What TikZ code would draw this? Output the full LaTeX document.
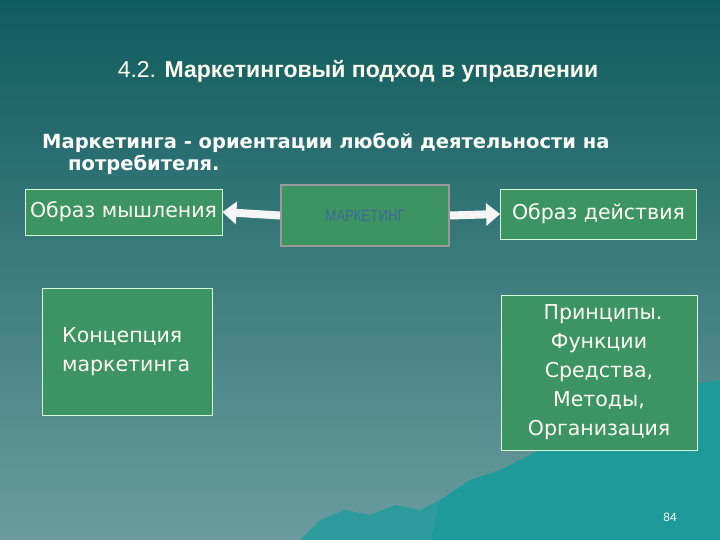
\documentclass[tikz,border=0pt]{standalone}
\usepackage{fontspec}
\setmainfont{DejaVu Sans}
\newfontfamily\arialf{Liberation Sans}
\usetikzlibrary{arrows.meta}
\definecolor{bgtop}{HTML}{0F5C5E}
\definecolor{bgbot}{HTML}{6A9C9E}
\definecolor{boxg}{HTML}{3D9463}
\definecolor{mount}{HTML}{1E9A9A}
\definecolor{titlec}{HTML}{FFFFF0}
\tikzset{
  gbox/.style={draw=white!85!green, line width=0.8pt, fill=boxg, text=titlec, inner sep=0pt},
  warrow/.style={-{Triangle[length=14pt,width=22pt]}, line width=8pt, draw=white!92!gray},
}
\begin{document}
\begin{tikzpicture}[x=1pt,y=-1pt]
\useasboundingbox (0,0) rectangle (720,540);
\shade[top color=bgtop, bottom color=bgbot] (0,0) rectangle (720,540);
\fill[mount] (430,540) -- (440,500) -- (470,480) -- (500,470) -- (530,455) -- (560,440) -- (590,430) -- (620,425) -- (640,405) -- (665,395) -- (690,385) -- (720,380) -- (720,540) -- cycle;
\fill[mount!80!bgbot] (300,540) -- (320,520) -- (345,510) -- (370,515) -- (395,505) -- (420,510) -- (440,500) -- (430,540) -- cycle;
\node[anchor=base, text=titlec, font=\arialf\fontsize{23}{26}\selectfont] (title) at (358,78) {4.2. \textbf{Маркетинговый подход в управлении}};
\node[anchor=base west, inner sep=0pt, text=white, font=\bfseries\fontsize{19.5}{22}\selectfont] (sub1) at (42,149) {Маркетинга - ориентации любой деятельности на};
\node[anchor=base west, inner sep=0pt, text=white, font=\bfseries\fontsize{19.5}{22}\selectfont] (sub2) at (68,171) {потребителя.};
\node[gbox, minimum width=197pt, minimum height=46pt, font=\fontsize{20.5}{24}\selectfont] (think) at (123.5,212) {Образ мышления};
\node[gbox, minimum width=196pt, minimum height=50pt, font=\fontsize{20.5}{24}\selectfont] (act) at (598.5,214) {Образ действия};
\node[draw=gray!80, line width=2pt, fill=boxg, minimum width=168pt, minimum height=60pt, text=cyan!50!blue!70!black, font=\arialf\fontsize{16.5}{18}\selectfont] (mk) at (365,215.5) {\scalebox{0.8}[1]{МАРКЕТИНГ}};
\draw[warrow] (mk.west) -- (think.east);
\draw[warrow] (mk.east) -- (act.west);
\node[gbox, minimum width=170pt, minimum height=127pt] (conc) at (127,351.5) {};
\node[anchor=west, text=titlec, align=left, inner sep=0pt, font=\fontsize{20.5}{29}\selectfont] (concT) at (62,352) {Концепция\\маркетинга};
\node[gbox, minimum width=196pt, minimum height=155pt, align=center, font=\fontsize{20.5}{29}\selectfont] (prin) at (599,372.5) {\hspace*{8pt}Принципы.\\Функции\\Средства,\\Методы,\\Организация};
\node[text=white, font=\arialf\fontsize{12}{14}\selectfont] (pg) at (670,517) {84};
\end{tikzpicture}
\end{document}
